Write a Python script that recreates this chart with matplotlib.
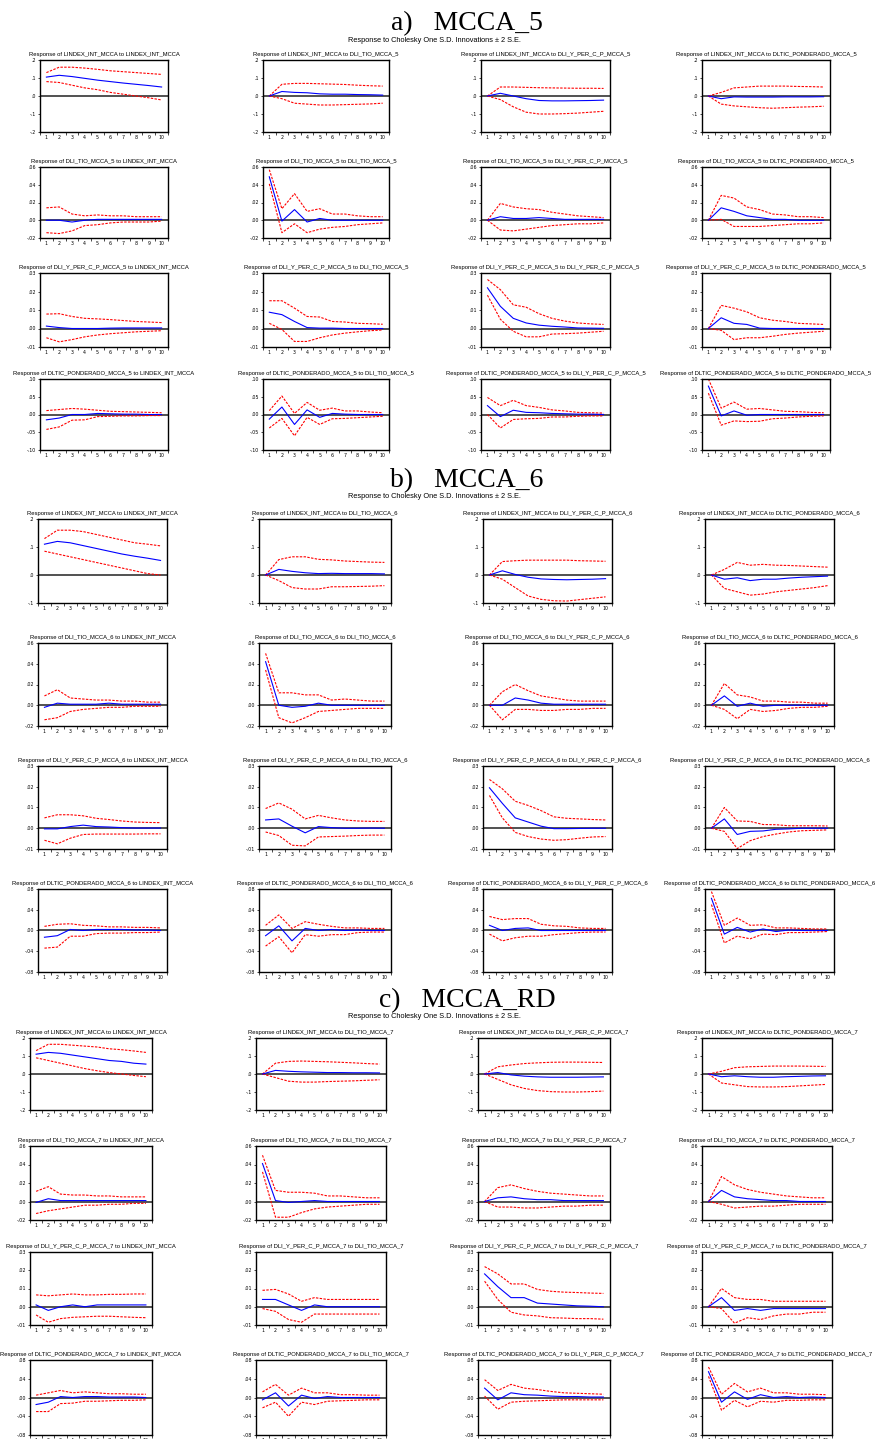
import matplotlib
matplotlib.use("Agg")
import matplotlib.pyplot as plt
from matplotlib.ticker import FuncFormatter, FixedLocator

W, H = 889, 1439
periods = list(range(1, 11))

block_titles = ["a)   MCCA_5", "b)   MCCA_6", "c)   MCCA_RD"]
subtitle = "Response to Cholesky One S.D. Innovations \u00b1 2 S.E."
vars_a = ["LINDEX_INT_MCCA", "DLI_TIO_MCCA_5", "DLI_Y_PER_C_P_MCCA_5", "DLTIC_PONDERADO_MCCA_5"]
vars_b = ["LINDEX_INT_MCCA", "DLI_TIO_MCCA_6", "DLI_Y_PER_C_P_MCCA_6", "DLTIC_PONDERADO_MCCA_6"]
vars_c = ["LINDEX_INT_MCCA", "DLI_TIO_MCCA_7", "DLI_Y_PER_C_P_MCCA_7", "DLTIC_PONDERADO_MCCA_7"]

# y-axis ranges per row: (min, max, step, decimals)
yax_a = [(-.2, .2, .1, 1), (-.02, .06, .02, 2), (-.01, .03, .01, 2), (-.10, .10, .05, 2)]
yax_b = [(-.1, .2, .1, 1), (-.02, .06, .02, 2), (-.01, .03, .01, 2), (-.08, .08, .04, 2)]
yax_c = [(-.2, .2, .1, 1), (-.02, .06, .02, 2), (-.01, .03, .01, 2), (-.08, .08, .04, 2)]

# ---------------- block a) MCCA_5 ----------------
a_resp = [
    [.105, .115, .108, .098, .088, .080, .072, .065, .058, .050],
    [0, .025, .020, .018, .012, .010, .010, .008, .007, .005],
    [0, .015, .000, -.015, -.025, -.027, -.027, -.026, -.025, -.023],
    [0, -.015, -.005, -.006, -.006, -.006, -.005, -.005, -.005, -.004],
    [0, 0, -.002, 0, .001, .001, .001, .001, .001, .001],
    [.049, -.001, .012, -.002, .002, 0, 0, 0, 0, 0],
    [0, .004, .002, .002, .003, .002, .001, .001, .001, .001],
    [0, .014, .010, .005, .003, .001, .001, 0, 0, 0],
    [.0013, .0005, 0, 0, 0, .0002, .0003, .0003, .0003, .0003],
    [.0088, .0075, .0038, .0005, .0002, .0002, 0, 0, 0, 0],
    [.022, .012, .0055, .003, .0018, .0012, .0008, .0003, .0002, .0001],
    [0, .0058, .0028, .0022, .0002, 0, 0, 0, 0, 0],
    [-.015, -.010, 0, 0, .003, .002, .001, .001, 0, 0],
    [-.013, .021, -.028, .013, -.008, .003, .001, 0, 0, 0],
    [.025, -.006, .012, .006, .005, .003, .002, .001, .001, 0],
    [.080, -.004, .010, -.002, 0, 0, 0, 0, 0, 0],
]
a_upper = [
    [.13, .16, .16, .155, .148, .14, .135, .13, .125, .12],
    [0, .065, .07, .07, .068, .066, .064, .06, .057, .055],
    [0, .05, .05, .048, .046, .045, .044, .043, .043, .042],
    [0, .02, .045, .05, .055, .055, .055, .053, .052, .05],
    [.014, .015, .007, .005, .006, .005, .005, .004, .004, .004],
    [.057, .013, .03, .01, .013, .007, .007, .005, .004, .004],
    [0, .019, .015, .013, .012, .009, .007, .005, .004, .003],
    [0, .028, .025, .015, .012, .007, .006, .004, .004, .003],
    [.0078, .008, .0065, .0055, .0052, .0048, .0043, .0038, .0035, .0032],
    [.015, .015, .011, .0065, .0062, .0038, .0035, .0028, .0026, .0023],
    [.0265, .021, .0128, .0115, .008, .0055, .004, .003, .0025, .0022],
    [0, .0125, .011, .009, .0058, .0045, .0038, .0028, .0025, .0022],
    [.011, .014, .017, .015, .012, .009, .008, .007, .006, .005],
    [.011, .052, .003, .034, .012, .018, .010, .010, .007, .005],
    [.048, .025, .040, .025, .020, .013, .010, .006, .005, .004],
    [.100, .018, .035, .015, .017, .013, .009, .008, .006, .005],
]
a_lower = [
    [.08, .075, .06, .045, .035, .02, .01, 0, -.01, -.022],
    [0, -.015, -.04, -.045, -.05, -.05, -.048, -.046, -.044, -.04],
    [0, -.02, -.06, -.09, -.1, -.1, -.098, -.095, -.09, -.085],
    [0, -.045, -.055, -.06, -.065, -.068, -.065, -.062, -.06, -.057],
    [-.014, -.015, -.012, -.006, -.005, -.003, -.002, -.002, -.002, -.001],
    [.041, -.014, -.004, -.014, -.010, -.008, -.007, -.005, -.004, -.003],
    [0, -.011, -.012, -.010, -.008, -.006, -.005, -.004, -.004, -.003],
    [0, .001, -.007, -.007, -.007, -.006, -.005, -.004, -.004, -.003],
    [-.005, -.0072, -.006, -.0045, -.0035, -.0028, -.0023, -.0018, -.0015, -.0012],
    [.0028, -.0005, -.007, -.007, -.005, -.0035, -.0025, -.0018, -.0012, -.0008],
    [.018, .005, -.0015, -.0045, -.0045, -.003, -.0028, -.0025, -.002, -.0015],
    [0, -.001, -.006, -.005, -.005, -.0042, -.0032, -.0025, -.002, -.0015],
    [-.042, -.035, -.016, -.015, -.006, -.005, -.004, -.004, -.003, -.003],
    [-.038, -.011, -.060, -.008, -.028, -.012, -.011, -.009, -.007, -.005],
    [0, -.038, -.014, -.012, -.011, -.007, -.007, -.005, -.004, -.004],
    [.060, -.030, -.018, -.020, -.019, -.012, -.010, -.007, -.005, -.004],
]

# ---------------- block b) MCCA_6 ----------------
b_resp = [
    [.11, .12, .115, .105, .095, .085, .075, .067, .060, .052],
    [0, .02, .013, .008, .005, .006, .005, .005, .005, .004],
    [0, .015, .002, -.008, -.014, -.016, -.017, -.016, -.015, -.013],
    [0, -.015, -.010, -.020, -.015, -.015, -.011, -.008, -.006, -.004],
    [-.002, .002, .001, .001, .001, .002, .001, .001, .001, .001],
    [.042, 0, -.002, -.001, .002, 0, 0, 0, 0, 0],
    [0, 0, .007, .005, .002, .001, .001, .001, .001, .001],
    [0, .009, -.001, .002, -.001, 0, 0, 0, 0, 0],
    [-.0003, -.0003, .0008, .0015, .0008, .0006, .0003, .0001, .0001, .0001],
    [.004, .0045, .001, -.0022, .0008, .0003, 0, 0, .0001, 0],
    [.0195, .012, .005, .003, .001, -.0002, -.0002, -.0001, 0, 0],
    [0, .0045, -.003, -.0015, -.0013, -.0005, -.0003, 0, 0, 0],
    [-.013, -.010, .002, 0, .002, .002, .002, .001, .001, 0],
    [-.010, .009, -.020, .004, 0, .002, 0, .001, 0, 0],
    [.010, 0, .004, .005, 0, 0, 0, 0, 0, 0],
    [.062, -.007, .006, -.003, .003, -.002, .001, 0, 0, 0],
]
b_upper = [
    [.13, .16, .16, .155, .145, .135, .125, .115, .11, .104],
    [0, .055, .065, .065, .056, .054, .05, .048, .046, .045],
    [0, .048, .051, .053, .053, .053, .053, .051, .05, .049],
    [0, .02, .045, .035, .038, .035, .034, .032, .03, .028],
    [.009, .015, .007, .006, .005, .005, .004, .004, .003, .003],
    [.050, .012, .012, .010, .010, .005, .006, .005, .004, .004],
    [0, .013, .020, .014, .009, .007, .005, .004, .004, .004],
    [0, .021, .010, .008, .004, .004, .003, .003, .002, .002],
    [.005, .0065, .0065, .006, .0048, .0042, .0035, .003, .0028, .0027],
    [.0095, .0122, .0092, .0045, .0062, .005, .004, .0035, .0033, .0033],
    [.0235, .019, .013, .011, .0085, .0055, .0048, .0045, .0042, .004],
    [0, .010, .0035, .0033, .0018, .0017, .0012, .0012, .0012, .0011],
    [.008, .012, .013, .010, .009, .007, .007, .006, .006, .005],
    [.010, .030, .004, .017, .012, .008, .005, .005, .004, .004],
    [.027, .021, .023, .023, .012, .009, .008, .005, .004, .004],
    [.075, .010, .024, .010, .011, .005, .005, .004, .003, .003],
]
b_lower = [
    [.085, .075, .065, .055, .045, .035, .025, .015, .005, 0],
    [0, -.02, -.045, -.05, -.05, -.042, -.042, -.041, -.04, -.038],
    [0, -.015, -.045, -.075, -.087, -.092, -.093, -.088, -.083, -.078],
    [0, -.048, -.06, -.072, -.068, -.06, -.055, -.05, -.045, -.038],
    [-.014, -.012, -.006, -.004, -.003, -.002, -.002, -.001, -.001, -.001],
    [.034, -.012, -.017, -.012, -.006, -.005, -.004, -.003, -.003, -.003],
    [0, -.014, -.004, -.004, -.005, -.005, -.004, -.004, -.003, -.003],
    [0, -.004, -.013, -.004, -.006, -.005, -.003, -.002, -.002, -.001],
    [-.0058, -.0075, -.0048, -.003, -.0028, -.0028, -.0028, -.0028, -.0027, -.0027],
    [-.0018, -.0035, -.0082, -.0085, -.0042, -.004, -.0038, -.0035, -.0033, -.0033],
    [.0158, .005, -.002, -.004, -.0052, -.0058, -.0055, -.0048, -.0042, -.004],
    [0, -.0015, -.0098, -.006, -.004, -.0028, -.0018, -.0012, -.001, -.0008],
    [-.034, -.032, -.011, -.011, -.006, -.005, -.005, -.004, -.004, -.003],
    [-.030, -.012, -.043, -.008, -.011, -.008, -.008, -.004, -.003, -.003],
    [-.007, -.020, -.014, -.011, -.011, -.008, -.006, -.004, -.003, -.003],
    [.050, -.024, -.011, -.016, -.007, -.008, -.004, -.004, -.003, -.002],
]

# ---------------- block c) MCCA_RD ----------------
c_resp = [
    [.11, .12, .115, .105, .095, .085, .075, .07, .06, .055],
    [0, .02, .015, .012, .01, .008, .008, .007, .007, .006],
    [0, .008, -.005, -.012, -.016, -.018, -.018, -.018, -.017, -.016],
    [0, -.015, -.01, -.015, -.018, -.018, -.015, -.013, -.011, -.01],
    [-.001, .003, .001, .001, .001, .001, .001, .001, .001, .001],
    [.041, .001, -.001, 0, .001, 0, 0, 0, 0, 0],
    [0, .004, .005, .003, .002, .002, .001, .001, .001, .001],
    [0, .012, .005, .003, .002, .001, .001, 0, 0, 0],
    [.001, -.002, 0, .001, 0, .001, .001, .001, .001, .001],
    [.004, .004, .001, -.002, .001, 0, 0, 0, 0, 0],
    [.018, .011, .005, .005, .002, .0015, .001, .0005, .0003, 0],
    [0, .005, -.002, -.001, -.002, -.001, -.001, -.001, -.001, -.001],
    [-.015, -.010, .002, 0, .002, .002, .001, .001, .001, 0],
    [-.005, .010, -.018, .005, -.002, .002, 0, 0, 0, 0],
    [.020, -.005, .010, .006, .005, .003, .002, .002, .001, .001],
    [.055, -.010, .012, -.004, .006, 0, .002, 0, .001, 0],
]
c_upper = [
    [.13, .165, .165, .16, .155, .15, .14, .135, .128, .12],
    [0, .06, .07, .072, .07, .068, .065, .062, .058, .055],
    [0, .04, .05, .058, .062, .065, .066, .066, .065, .064],
    [0, .015, .035, .04, .042, .044, .044, .044, .043, .042],
    [.011, .016, .008, .007, .007, .006, .006, .005, .005, .005],
    [.050, .012, .010, .010, .009, .006, .006, .005, .004, .004],
    [0, .015, .018, .014, .011, .009, .008, .007, .006, .006],
    [0, .027, .018, .013, .010, .008, .006, .005, .004, .004],
    [.0065, .006, .0065, .007, .0065, .0065, .0068, .0068, .007, .007],
    [.009, .0095, .007, .003, .005, .004, .004, .004, .004, .004],
    [.022, .018, .0125, .0125, .0095, .0085, .008, .0078, .0075, .0073],
    [0, .010, .005, .004, .004, .003, .003, .003, .003, .003],
    [.005, .010, .015, .010, .012, .010, .008, .008, .007, .007],
    [.012, .028, .005, .020, .010, .010, .006, .006, .005, .005],
    [.038, .015, .028, .020, .017, .013, .010, .009, .008, .007],
    [.065, .007, .030, .012, .020, .010, .010, .007, .007, .006],
]
c_lower = [
    [.09, .075, .06, .045, .03, .018, .008, 0, -.008, -.015],
    [0, -.02, -.04, -.045, -.045, -.042, -.04, -.038, -.035, -.032],
    [0, -.03, -.06, -.08, -.092, -.098, -.1, -.1, -.098, -.095],
    [0, -.05, -.06, -.07, -.072, -.072, -.07, -.066, -.062, -.058],
    [-.013, -.010, -.008, -.006, -.004, -.004, -.003, -.003, -.002, -.002],
    [.032, -.017, -.017, -.012, -.008, -.006, -.005, -.004, -.003, -.003],
    [0, -.006, -.006, -.007, -.007, -.006, -.005, -.005, -.004, -.004],
    [0, -.003, -.007, -.006, -.005, -.005, -.004, -.003, -.003, -.003],
    [-.0045, -.0085, -.0065, -.0058, -.0055, -.0052, -.0052, -.0055, -.0058, -.006],
    [-.001, -.0025, -.007, -.0085, -.004, -.004, -.004, -.004, -.004, -.004],
    [.014, .004, -.003, -.0045, -.005, -.006, -.0062, -.0065, -.0065, -.0068],
    [0, -.001, -.009, -.006, -.007, -.005, -.004, -.004, -.003, -.003],
    [-.030, -.030, -.013, -.012, -.008, -.008, -.007, -.006, -.006, -.005],
    [-.022, -.010, -.040, -.010, -.015, -.008, -.007, -.006, -.005, -.005],
    [.003, -.025, -.010, -.008, -.007, -.006, -.005, -.005, -.005, -.005],
    [.045, -.027, -.006, -.020, -.008, -.010, -.006, -.006, -.005, -.005],
]

# ---------------- layout (pixels) ----------------
rows_px = [
    [(60, 132), (167, 238), (273, 347), (379, 450)],
    [(519, 603), (643, 726), (766, 849), (889, 972)],
    [(1038, 1110), (1146, 1220), (1252, 1325), (1360, 1435)],
]
cols_px = [
    [(40, 168), (263, 389), (481, 610), (702, 830)],
    [(38, 167), (259, 391), (483, 612), (705, 834)],
    [(30, 152), (256, 386), (478, 610), (702, 832)],
]
title_base_px = [30, 487, 1007]
subtitle_y_px = [41, 496, 1016]

fig = plt.figure(figsize=(W / 100, H / 100), dpi=100)


def fmt_factory(dec):
    def f(v, pos):
        s = f"{abs(v):.{dec}f}".lstrip("0")
        if v < -1e-12:
            s = "-" + s
        return s
    return f


blocks = [
    (vars_a, yax_a, a_resp, a_lower, a_upper),
    (vars_b, yax_b, b_resp, b_lower, b_upper),
    (vars_c, yax_c, c_resp, c_lower, c_upper),
]

for bi, (vnames, yax, resp, lower, upper) in enumerate(blocks):
    fig.text(467 / W, 1 - title_base_px[bi] / H, block_titles[bi], ha="center", va="baseline",
             fontsize=20, family="Liberation Serif")
    fig.text(434 / W, 1 - subtitle_y_px[bi] / H, subtitle, ha="center", va="center",
             fontsize=5.3, family="Liberation Sans")
    for r in range(4):
        top, bot = rows_px[bi][r]
        ymin, ymax, step, dec = yax[r]
        for c in range(4):
            left, right = cols_px[bi][c]
            ax = fig.add_axes([left / W, 1 - bot / H, (right - left) / W, (bot - top) / H])
            k = r * 4 + c
            ax.axhline(0, color="#222222", lw=1.1, zorder=1)
            ax.plot(periods, upper[k], color="red", lw=0.8, ls=(0, (2.2, 1.2)), zorder=2)
            ax.plot(periods, lower[k], color="red", lw=0.8, ls=(0, (2.2, 1.2)), zorder=2)
            ax.plot(periods, resp[k], color="blue", lw=0.8, zorder=3)
            ax.set_xlim(0.5, 10.5)
            ax.set_ylim(ymin, ymax)
            nt = int(round((ymax - ymin) / step)) + 1
            ax.yaxis.set_major_locator(FixedLocator([ymin + i * step for i in range(nt)]))
            ax.yaxis.set_major_formatter(FuncFormatter(fmt_factory(dec)))
            ax.set_xticks(periods)
            ax.set_xticks([p + 0.5 for p in range(0, 11)], minor=True)
            ax.tick_params(axis="x", which="major", length=0, labelsize=3.4, pad=2.5)
            ax.tick_params(axis="x", which="minor", length=1.8, width=0.5)
            ax.tick_params(axis="y", which="major", length=1.8, width=0.5, labelsize=3.4, pad=1)
            for sp in ax.spines.values():
                sp.set_linewidth(1.0)
            ax.set_title(f"Response of {vnames[r]} to {vnames[c]}", fontsize=4.2,
                         family="Liberation Sans", pad=3)

fig.savefig("out.png", dpi=100)
